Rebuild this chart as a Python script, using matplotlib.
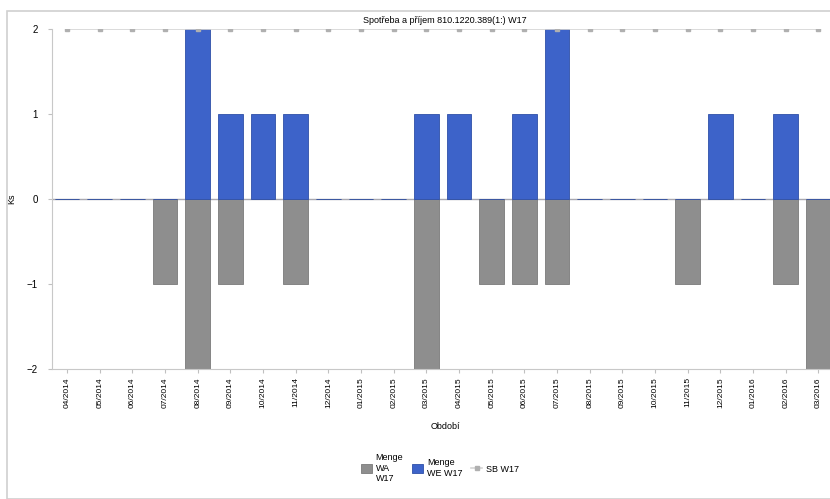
import numpy as np
import matplotlib.pyplot as plt
from matplotlib.patches import Rectangle

months = ['04/2014', '05/2014', '06/2014', '07/2014', '08/2014', '09/2014', '10/2014', '11/2014',
          '12/2014', '01/2015', '02/2015', '03/2015', '04/2015', '05/2015', '06/2015', '07/2015',
          '08/2015', '09/2015', '10/2015', '11/2015', '12/2015', '01/2016', '02/2016', '03/2016']

# outgoing quantity (negative), incoming quantity (positive), safety stock
menge_wa = [0, 0, 0, -1, -2, -1, 0, -1, 0, 0, 0, -2, 0, -1, -1, -1, 0, 0, 0, -1, 0, 0, -1, -2]
menge_we = [0, 0, 0, 0, 2, 1, 1, 1, 0, 0, 0, 1, 1, 0, 1, 2, 0, 0, 0, 0, 1, 0, 1, 0]
sb = [2] * 24

plt.rcParams['font.family'] = ['Liberation Sans', 'DejaVu Sans']

fig = plt.figure(figsize=(8.3, 4.99), dpi=100)
fig.patches.append(Rectangle((7/830, 0), 1, 1 - 11/499, transform=fig.transFigure,
                             fill=False, edgecolor='#d0d0d0', lw=1.2))

ax = fig.add_axes([52/830, 1 - 369/499, 786/830, 340/499])
x = np.arange(len(months))
w = 0.76
b1 = ax.bar(x, menge_wa, w, color='#8e8e8e', edgecolor='#7a7a7a', lw=0.6, zorder=2)
b2 = ax.bar(x, menge_we, w, color='#3d63c9', edgecolor='#2f50a8', lw=0.6, zorder=2)
ax.axhline(0, color='#a8a8b0', lw=1, zorder=1)
l1, = ax.plot(x, sb, color='#d4d4d4', lw=1.2, marker='s', markersize=3, markerfacecolor='#b0b0b0',
              markeredgecolor='#b0b0b0', zorder=3)

ax.set_xlim(-0.46, 23.6)
ax.set_ylim(-2, 2)
ax.set_yticks([-2, -1, 0, 1, 2])
ax.set_xticks(x)
ax.set_xticklabels(months, rotation=90, fontsize=6)
ax.tick_params(axis='y', labelsize=7, length=3, color='#c0c0c0', pad=7)
ax.tick_params(axis='x', length=3, color='#c0c0c0', pad=3)
for s in ['top', 'right']:
    ax.spines[s].set_visible(False)
for s in ['left', 'bottom']:
    ax.spines[s].set_color('#c8c8c8')

ax.set_title('Spotřeba a příjem 810.1220.389(1:) W17', fontsize=6.5, pad=4)
ax.set_ylabel('Ks', fontsize=6.5)
ax.yaxis.set_label_coords(-0.045, 0.5)
ax.set_xlabel('Období', fontsize=6.5, labelpad=10)

fig.legend([b1, b2, l1], ['Menge\nWA\nW17', 'Menge\nWE W17', 'SB W17'],
           loc='upper center', bbox_to_anchor=(440/830, 1 - 445/499), ncol=3, frameon=False,
           fontsize=6.5, handlelength=1.2, handleheight=1.2, columnspacing=1.0, handletextpad=0.4)

fig.savefig('out.png', dpi=100)
